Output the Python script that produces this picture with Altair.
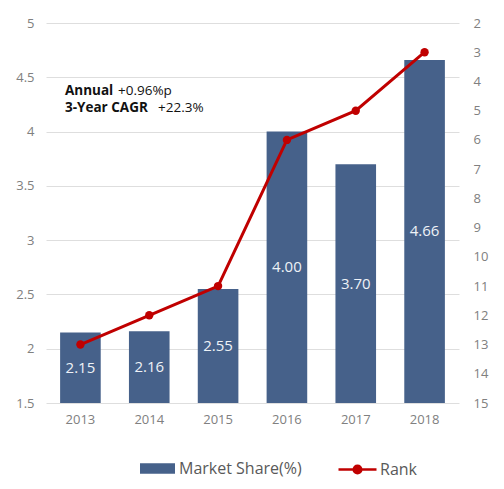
import altair as alt
import pandas as pd

years = ["2013", "2014", "2015", "2016", "2017", "2018"]
share = [2.15, 2.16, 2.55, 4.00, 3.70, 4.66]
rank = [13, 12, 11, 6, 5, 3]
share_labels = ["2.15", "2.16", "2.55", "4.00", "3.70", "4.66"]

note_bold = ["Annual", "3-Year CAGR"]
note_value = ["+0.96%p", "+22.3%"]

BAR = "#46618A"
RED = "#C00000"
FONT = "Open Sans"

df = pd.DataFrame({"year": years, "share": share, "rank": rank, "label": share_labels,
                   "s": ["Market Share(%)"] * 6, "r": ["Rank"] * 6})

xaxis = alt.Axis(labelAngle=0, labelFontSize=13, labelColor="#808080", labelFont=FONT,
                 labelPadding=10, ticks=False, domain=False, grid=False)
xenc = alt.X("year:N", title=None, sort=years,
             scale=alt.Scale(paddingInner=0.41, paddingOuter=0.205), axis=xaxis)

yshare = alt.Scale(domain=[1.5, 5], zero=False, nice=False)
shareaxis = alt.Axis(values=[1.5, 2, 2.5, 3, 3.5, 4, 4.5, 5], format="~g",
                     labelFontSize=13, labelColor="#808080", labelFont=FONT,
                     labelPadding=12, ticks=False, domain=False,
                     gridColor="#dedede", gridWidth=1)

base = alt.Chart(df)

bars = base.mark_bar(color=BAR).encode(
    x=xenc,
    y=alt.Y("share:Q", scale=yshare, title=None, axis=shareaxis),
    y2=alt.datum(1.5),
    fill=alt.Fill("s:N", scale=alt.Scale(domain=["Market Share(%)"], range=[BAR]),
                  legend=alt.Legend(title=None, orient="none", legendX=94, legendY=428,
                                    symbolType="M-1,-0.3H1V0.3H-1Z", symbolSize=1225,
                                    symbolStrokeWidth=0, labelFontSize=16, labelFont=FONT,
                                    labelColor="#595959", labelOffset=4, padding=0)),
)

labels = base.transform_calculate(mid="(datum.share + 1.5) / 2").mark_text(
    color="#eef2f7", fontSize=15, font=FONT, baseline="middle"
).encode(
    x=xenc,
    y=alt.Y("mid:Q", scale=yshare, title=None, axis=shareaxis),
    text="label:N",
)

left = alt.layer(bars, labels)

yrank = alt.Scale(domain=[2, 15], reverse=True, nice=False, zero=False)
rankaxis = alt.Axis(orient="right", values=list(range(2, 16)), grid=False,
                    labelFontSize=13, labelColor="#808080", labelFont=FONT,
                    labelPadding=14, ticks=False, domain=False)

line = base.mark_line(strokeWidth=3).encode(
    x=xenc,
    y=alt.Y("rank:Q", scale=yrank, title=None, axis=rankaxis),
    stroke=alt.Stroke("r:N", scale=alt.Scale(domain=["Rank"], range=[RED]),
                      legend=alt.Legend(title=None, orient="none", legendX=291, legendY=426,
                                        symbolType="M-1,0H1M0.2,0A0.2,0.2,0,1,1,-0.2,0A0.2,0.2,0,1,1,0.2,0Z",
                                        symbolSize=1444, symbolStrokeWidth=2.5,
                                        symbolFillColor=RED, labelFontSize=16, labelFont=FONT,
                                        labelColor="#595959", labelOffset=2, padding=0)),
)

pts = base.mark_circle(size=70, color=RED, opacity=1).encode(
    x=xenc,
    y=alt.Y("rank:Q", scale=yrank, title=None, axis=rankaxis),
)

right = alt.layer(line, pts)

note_df = pd.DataFrame({"a": [0]})
def note(txt, x, y, bold):
    return alt.Chart(note_df).mark_text(
        align="left", baseline="middle", fontSize=13.5, font=FONT, color="#111111",
        fontWeight="bold" if bold else "normal", text=txt
    ).encode(x=alt.value(x), y=alt.value(y))

notes = alt.layer(
    note(note_bold[0], 19, 68, True),
    note(note_value[0], 72, 68, False),
    note(note_bold[1], 19, 85, True),
    note(note_value[1], 112, 85, False),
)

chart = alt.layer(left, right, notes).resolve_scale(
    y="independent", fill="independent", stroke="independent"
).properties(
    width=413, height=380,
    padding={"left": 38, "top": 15, "right": 37, "bottom": 78},
    autosize=alt.AutoSizeParams(type="none"),
    view=alt.ViewBackground(strokeWidth=0, strokeOpacity=0),
).configure(font=FONT).configure_view(strokeWidth=0, strokeOpacity=0).configure_axis(
    domain=False, domainOpacity=0, ticks=False
).configure_axisX(grid=False)

chart.save("out.html", embed_options={"renderer": "svg", "actions": False})
